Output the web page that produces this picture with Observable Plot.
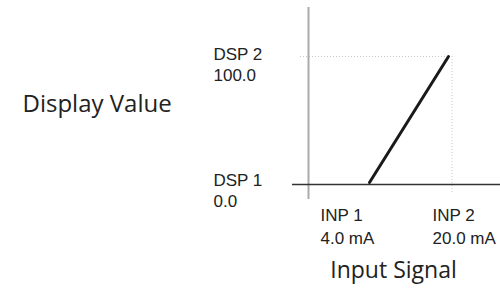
<!DOCTYPE html>
<html>
<head>
<meta charset="utf-8">
<script src="https://cdn.jsdelivr.net/npm/d3@7"></script>
<script src="https://cdn.jsdelivr.net/npm/@observablehq/plot@0.6"></script>
<style>
  html, body { margin: 0; padding: 0; background: #fff; }
  #chart svg { display: block; }
</style>
</head>
<body>
<div id="chart"></div>
<script>
// Input signal endpoints (mA) and the corresponding display values
const inputValues = [4, 20];
const displayValues = [0, 100];
// Tick-style labels
const inputLabels = ["INP 1\n4.0 mA", "INP 2\n20.0 mA"];
const displayLabels = ["DSP 1\n0.0", "DSP 2\n100.0"];
// Axis titles
const xTitle = "Input Signal";
const yTitle = "Display Value";

const points = inputValues.map((x, i) => ({x, y: displayValues[i]}));
const labelFont = "Liberation Sans, Arial, sans-serif";
const titleFont = "Open Sans, sans-serif";

const chart = Plot.plot({
  width: 500,
  height: 291,
  margin: 0,
  style: {background: "#fff"},
  x: {domain: d3.extent(inputValues), range: [369, 448], axis: null},
  y: {domain: d3.extent(displayValues), range: [182, 56], axis: null},
  marks: [
    // dotted guide lines at INP 2 / DSP 2
    Plot.ruleY([displayValues[1]], {stroke: "#c8c8c8", strokeWidth: 1, strokeDasharray: "1,2", insetLeft: 300, insetRight: 50}),
    Plot.ruleX([inputValues[1]], {stroke: "#c8c8c8", strokeWidth: 1, strokeDasharray: "1,2", dx: 3.5, insetTop: 56, insetBottom: 99}),
    // vertical axis line
    Plot.ruleX([inputValues[0]], {dx: -61, stroke: "#aaaaaa", strokeWidth: 2, insetTop: 7, insetBottom: 92}),
    // horizontal axis line
    Plot.ruleY([displayValues[0]], {dy: 2, stroke: "#333", strokeWidth: 1.5, insetLeft: 292}),
    // the transfer line
    Plot.line(points, {x: "x", y: "y", stroke: "#1a1a1a", strokeWidth: 3}),
    // display labels
    Plot.text(displayLabels, {y: displayValues, frameAnchor: "left", dx: 213, textAnchor: "start", lineAnchor: "top", dy: -12, lineHeight: 1.27, fontSize: 17, fontFamily: labelFont, fill: "#222"}),
    // input labels
    Plot.text(inputLabels, {filter: (d, i) => i === 0, x: inputValues, frameAnchor: "top", dx: -49, dy: 205, textAnchor: "start", lineAnchor: "top", lineHeight: 1.32, fontSize: 17, fontFamily: labelFont, fill: "#222"}),
    Plot.text(inputLabels, {filter: (d, i) => i === 1, x: inputValues, frameAnchor: "top", dx: -16, dy: 205, textAnchor: "start", lineAnchor: "top", lineHeight: 1.32, fontSize: 17, fontFamily: labelFont, fill: "#222"}),
    // titles
    Plot.text([xTitle], {frameAnchor: "top-left", dx: 393, dy: 277, textAnchor: "middle", lineAnchor: "bottom", fontSize: 23, fontFamily: titleFont, fill: "#222"}),
    Plot.text([yTitle], {frameAnchor: "top-left", dx: 22, dy: 111, textAnchor: "start", lineAnchor: "bottom", fontSize: 24, fontFamily: titleFont, fill: "#222"})
  ]
});
document.getElementById("chart").append(chart);
</script>
</body>
</html>
